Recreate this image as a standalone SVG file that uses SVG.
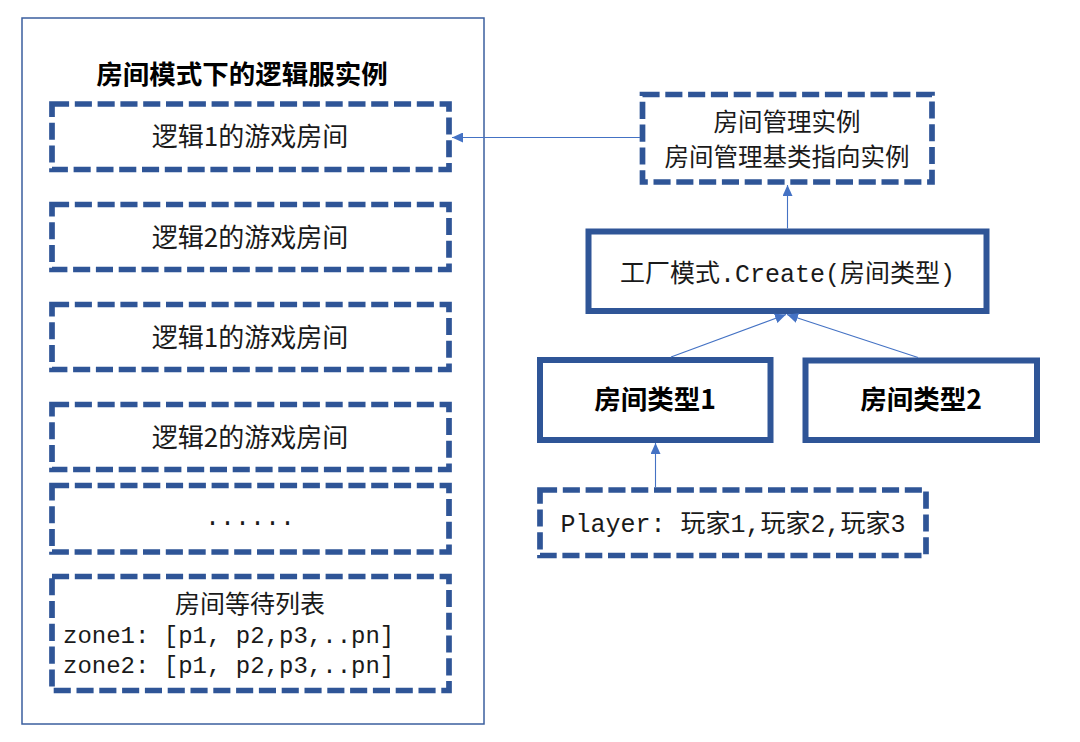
<svg xmlns="http://www.w3.org/2000/svg" width="1080" height="742" viewBox="0 0 1080 742">
<defs>
<style>
.outer{fill:#fff;stroke:#3B5F9E;stroke-width:1.5}
.dash{fill:#fff;stroke:#2F5597;stroke-width:5.7;stroke-dasharray:17.1 5.7}
.solid{fill:#fff;stroke:#2F5597;stroke-width:6}
.t{font-family:"Noto Sans CJK SC","Noto Sans",sans-serif;font-size:26px;fill:#1a1a1a;text-anchor:middle}
.b{font-weight:bold;fill:#000;font-size:26.5px}
.m{font-family:"Liberation Mono","Noto Sans CJK SC",monospace;font-size:25px;fill:#1a1a1a}
.conn{stroke:#4472C4;stroke-width:1.1;fill:none}
</style>
<marker id="ah" markerUnits="userSpaceOnUse" markerWidth="12" markerHeight="10" viewBox="0 0 12 10" refX="11" refY="5" orient="auto">
<path d="M0,0 L11,5 L0,10 Z" fill="#4472C4"/>
</marker>
</defs>
<rect width="1080" height="742" fill="#fff"/>
<g id="container">
<rect class="outer" x="22" y="18" width="462" height="706"/>
<text class="t b" x="242" y="84">房间模式下的逻辑服实例</text>
</g>
<g id="room1">
<rect class="dash" x="52" y="104" width="397" height="65.5"/>
<text class="t" x="250" y="146">逻辑1的游戏房间</text>
</g>
<g id="room2">
<rect class="dash" x="52" y="204.5" width="397" height="65"/>
<text class="t" x="250" y="246.5">逻辑2的游戏房间</text>
</g>
<g id="room3">
<rect class="dash" x="52" y="304.5" width="397" height="65"/>
<text class="t" x="250" y="346.5">逻辑1的游戏房间</text>
</g>
<g id="room4">
<rect class="dash" x="52" y="404.5" width="397" height="65"/>
<text class="t" x="250" y="446.5">逻辑2的游戏房间</text>
</g>
<g id="room-more">
<rect class="dash" x="52" y="485.5" width="397" height="66.5"/>
<text class="m" x="250" y="525" text-anchor="middle">......</text>
</g>
<g id="wait-list">
<rect class="dash" x="52" y="576.5" width="397" height="114"/>
<text class="t" x="250" y="613" style="font-size:25px">房间等待列表</text>
<text class="m" x="63" y="643" style="font-size:24px">zone1: [p1, p2,p3,..pn]</text>
<text class="m" x="63" y="673" style="font-size:24px">zone2: [p1, p2,p3,..pn]</text>
</g>
<g id="manager">
<rect class="dash" x="642.5" y="94.5" width="289.5" height="87.5"/>
<text class="t" x="787" y="131" style="font-size:24.5px">房间管理实例</text>
<text class="t" x="787" y="166" style="font-size:24.5px">房间管理基类指向实例</text>
</g>
<g id="factory">
<rect class="solid" x="588.5" y="231.5" width="398" height="79.5"/>
<text class="m" x="787.5" y="282" text-anchor="middle">工厂模式.Create(房间类型)</text>
</g>
<g id="type1">
<rect class="solid" x="540" y="360" width="230.5" height="80"/>
<text class="t b" x="655" y="409">房间类型1</text>
</g>
<g id="type2">
<rect class="solid" x="805.5" y="360.5" width="231.5" height="79.5"/>
<text class="t b" x="921" y="409">房间类型2</text>
</g>
<g id="player">
<rect class="dash" x="540" y="490" width="386" height="65.5"/>
<text class="m" x="733" y="532" text-anchor="middle">Player: 玩家1,玩家2,玩家3</text>
</g>
<g id="connectors">
<line class="conn" x1="640" y1="137.5" x2="452" y2="137.5" marker-end="url(#ah)"/>
<line class="conn" x1="787.5" y1="228.5" x2="787.5" y2="185" marker-end="url(#ah)"/>
<line class="conn" x1="671" y1="357" x2="786" y2="314.5" marker-end="url(#ah)"/>
<line class="conn" x1="918" y1="357.5" x2="787" y2="314.5" marker-end="url(#ah)"/>
<line class="conn" x1="655.5" y1="487" x2="655.5" y2="443" marker-end="url(#ah)"/>
</g>
</svg>
